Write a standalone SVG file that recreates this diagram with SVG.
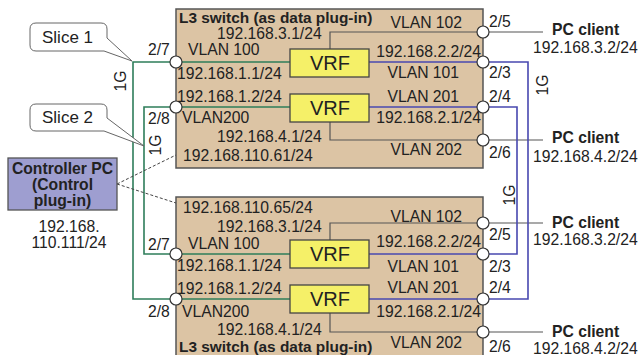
<svg xmlns="http://www.w3.org/2000/svg" width="640" height="355" viewBox="0 0 640 355">
<style>
text{font-family:"Liberation Sans",Arial,sans-serif;font-size:15.7px;fill:#222}
.b{font-weight:bold}
.e{text-anchor:end}
.m{text-anchor:middle}
.vrf{font-size:20px;text-anchor:middle}
.sw{fill:#dcc4a4;stroke:#555;stroke-width:1.5}
.vb{fill:#f5f068;stroke:#444;stroke-width:1.3}
.gl{fill:none;stroke:#2e7d5a;stroke-width:1.6}
.bl{fill:none;stroke:#4848b0;stroke-width:1.6}
.ln{fill:none;stroke:#555;stroke-width:1.2}
.dl{fill:none;stroke:#444;stroke-width:1;stroke-dasharray:3,2}
.pt{fill:#fff;stroke:#333;stroke-width:1.2}
.co{fill:#fff;stroke:#666;stroke-width:1}
</style>

<g id="switch-top">
<rect class="sw" x="176" y="9" width="307" height="159"/>
</g>
<g id="switch-bottom">
<rect class="sw" x="176" y="197" width="307" height="166"/>
</g>

<g id="connectors">
<path class="ln" d="M330,49 V32 H483 M330,122 V140 H483 M330,240 V223 H483 M330,313 V332 H483"/>
<path class="ln" d="M483,32 H543 M483,140 H543 M483,223 H543 M483,332 H543"/>
<path class="gl" d="M176,62 H290 M176,107 H290 M176,254 H290 M176,299 H290"/>
<path class="gl" d="M176,62 H133 V299 H176 M176,107 H144 V254 H176"/>
<path class="bl" d="M369,62 H483 M369,107 H483 M369,254 H483 M369,299 H483"/>
<path class="bl" d="M483,62 H528 V299 H483 M483,107 H517 V254 H483"/>
<path class="dl" d="M117,184 L176,155 M117,184 L176,203"/>
</g>

<g id="vrf-top-1"><rect class="vb" x="290" y="49" width="79" height="28"/><text class="vrf" x="330" y="70">VRF</text></g>
<g id="vrf-top-2"><rect class="vb" x="290" y="94" width="79" height="28"/><text class="vrf" x="330" y="115">VRF</text></g>
<g id="vrf-bottom-1"><rect class="vb" x="290" y="240" width="79" height="28"/><text class="vrf" x="330" y="261">VRF</text></g>
<g id="vrf-bottom-2"><rect class="vb" x="290" y="285" width="79" height="28"/><text class="vrf" x="330" y="306">VRF</text></g>

<g id="ports">
<circle class="pt" cx="176" cy="62" r="6"/>
<circle class="pt" cx="176" cy="107" r="6"/>
<circle class="pt" cx="483" cy="32" r="6"/>
<circle class="pt" cx="483" cy="62" r="6"/>
<circle class="pt" cx="483" cy="107" r="6"/>
<circle class="pt" cx="483" cy="140" r="6"/>
<circle class="pt" cx="176" cy="254" r="6"/>
<circle class="pt" cx="176" cy="299" r="6"/>
<circle class="pt" cx="483" cy="223" r="6"/>
<circle class="pt" cx="483" cy="254" r="6"/>
<circle class="pt" cx="483" cy="299" r="6"/>
<circle class="pt" cx="483" cy="332" r="6"/>
</g>

<g id="switch-top-labels">
<text class="b" x="179" y="23" style="font-size:15.4px">L3 switch (as data plug-in)</text>
<text x="217" y="39">192.168.3.1/24</text>
<text x="188" y="55">VLAN 100</text>
<text x="177" y="79">192.168.1.1/24</text>
<text x="177" y="102">192.168.1.2/24</text>
<text x="182" y="123">VLAN200</text>
<text x="217" y="142">192.168.4.1/24</text>
<text x="183" y="161">192.168.110.61/24</text>
<text class="e" x="462" y="28">VLAN 102</text>
<text class="e" x="481" y="57">192.168.2.2/24</text>
<text class="e" x="459" y="78">VLAN 101</text>
<text class="e" x="459" y="102">VLAN 201</text>
<text class="e" x="481" y="123">192.168.2.1/24</text>
<text class="e" x="462" y="155">VLAN 202</text>
<text x="148" y="55">2/7</text>
<text x="148" y="124">2/8</text>
<text x="489" y="27">2/5</text>
<text x="489" y="78">2/3</text>
<text x="489" y="102">2/4</text>
<text x="489" y="158">2/6</text>
</g>

<g id="switch-bottom-labels">
<text x="183" y="213">192.168.110.65/24</text>
<text x="217" y="232">192.168.3.1/24</text>
<text x="188" y="249">VLAN 100</text>
<text x="177" y="271">192.168.1.1/24</text>
<text x="177" y="294">192.168.1.2/24</text>
<text x="182" y="317">VLAN200</text>
<text x="217" y="335">192.168.4.1/24</text>
<text class="b" x="179" y="352" style="font-size:15.4px">L3 switch (as data plug-in)</text>
<text class="e" x="462" y="222">VLAN 102</text>
<text class="e" x="481" y="247">192.168.2.2/24</text>
<text class="e" x="459" y="272">VLAN 101</text>
<text class="e" x="459" y="293">VLAN 201</text>
<text class="e" x="481" y="317">192.168.2.1/24</text>
<text class="e" x="462" y="348">VLAN 202</text>
<text x="148" y="250">2/7</text>
<text x="148" y="317">2/8</text>
<text x="489" y="240">2/5</text>
<text x="489" y="272">2/3</text>
<text x="489" y="293">2/4</text>
<text x="489" y="352">2/6</text>
</g>

<g id="pc-client-1"><text class="b" x="552" y="35">PC client</text><text x="533" y="53">192.168.3.2/24</text></g>
<g id="pc-client-2"><text class="b" x="552" y="143">PC client</text><text x="533" y="162">192.168.4.2/24</text></g>
<g id="pc-client-3"><text class="b" x="552" y="228">PC client</text><text x="533" y="245">192.168.3.2/24</text></g>
<g id="pc-client-4"><text class="b" x="552" y="337">PC client</text><text x="533" y="354">192.168.4.2/24</text></g>

<g id="link-labels">
<text class="m" transform="translate(126,81) rotate(-90)">1G</text>
<text class="m" transform="translate(161,145) rotate(-90)">1G</text>
<text class="m" transform="translate(548,85) rotate(-90)">1G</text>
<text class="m" transform="translate(515,195) rotate(-90)">1G</text>
</g>

<g id="slice-1">
<path class="co" d="M36,23 H101 Q107,23 107,29 V38 L132,61 L104,51 H36 Q30,51 30,45 V29 Q30,23 36,23 Z"/>
<text x="42" y="43" style="font-size:17px">Slice 1</text>
</g>
<g id="slice-2">
<path class="co" d="M36,104 H101 Q107,104 107,110 V118 L144,146 L104,131 H36 Q30,131 30,125 V110 Q30,104 36,104 Z"/>
<text x="42" y="123" style="font-size:17px">Slice 2</text>
</g>

<g id="controller-pc">
<rect x="8" y="158" width="109" height="52" fill="#9e9ed0" stroke="#555" stroke-width="1.3"/>
<text class="b m" x="62.5" y="174">Controller PC</text>
<text class="b m" x="62.5" y="190">(Control</text>
<text class="b m" x="62.5" y="206">plug-in)</text>
<text class="m" x="69" y="232">192.168.</text>
<text class="m" x="69" y="248">110.111/24</text>
</g>
</svg>
